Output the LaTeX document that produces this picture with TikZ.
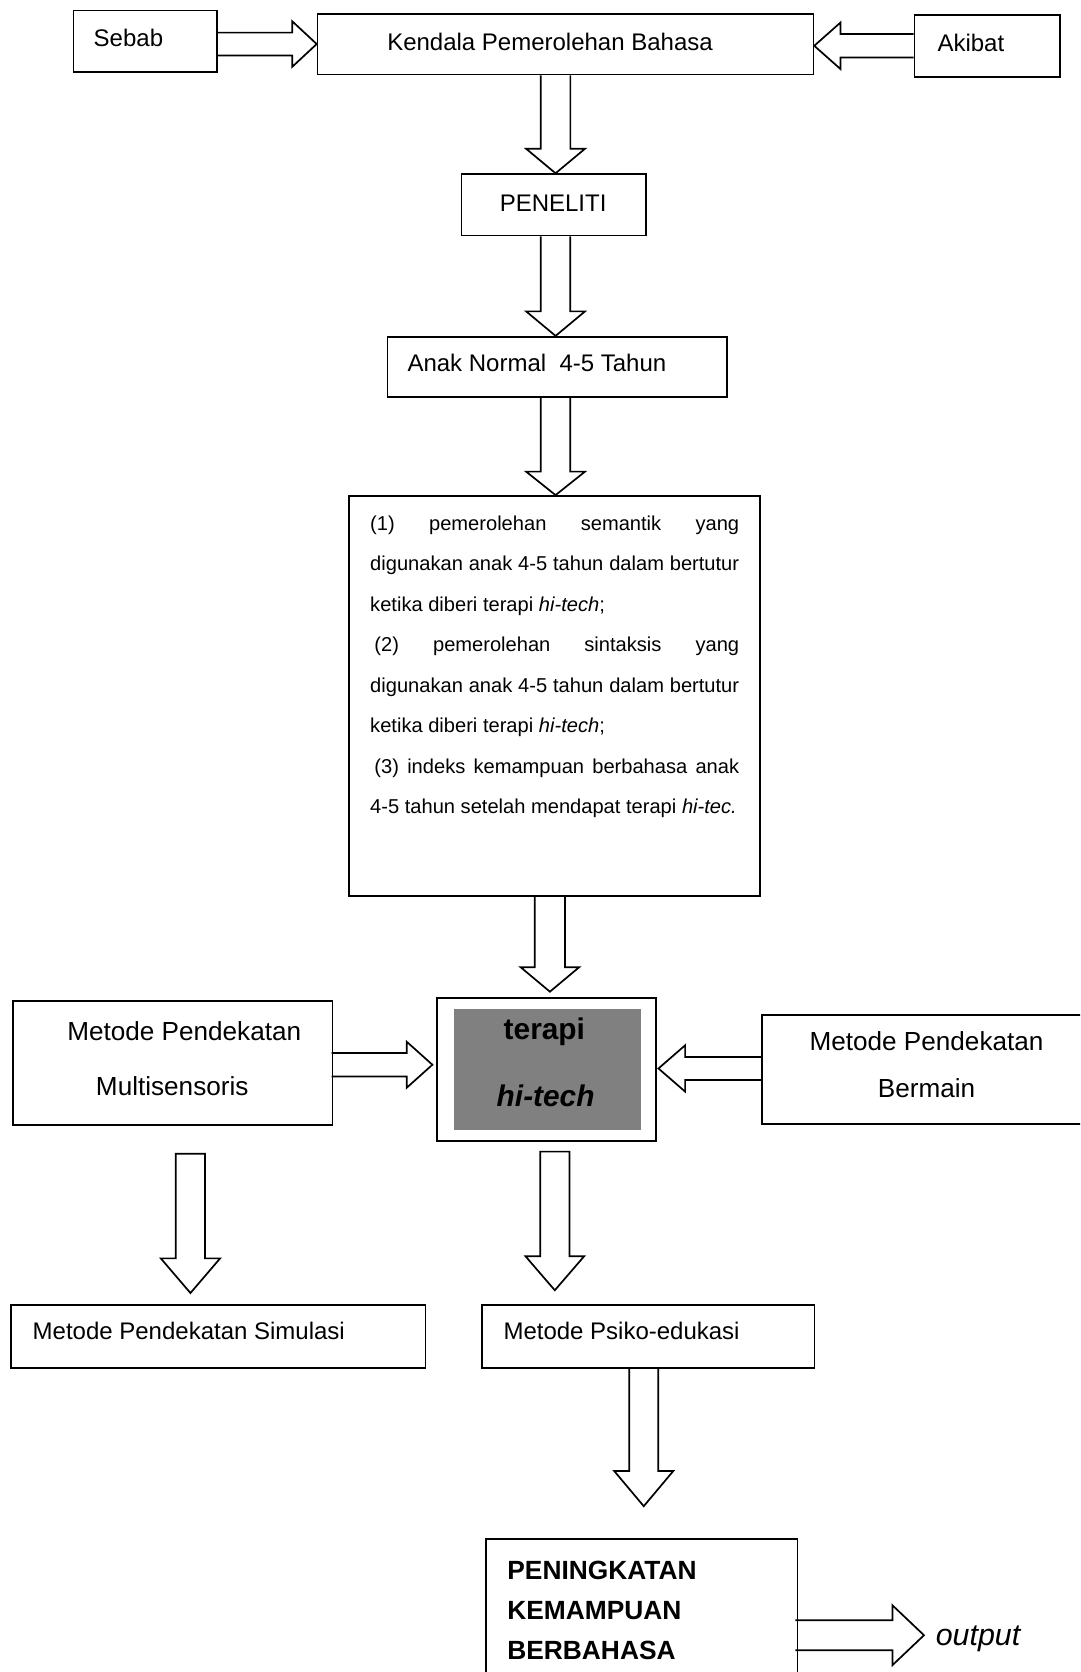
\documentclass[tikz,border=0pt]{standalone}
\usepackage{fontspec}
\setmainfont{Liberation Sans}
\usetikzlibrary{calc}
\definecolor{boxgray}{HTML}{808080}
\newcommand\fntMain{\fontsize{22.5}{27}\selectfont}
\newcommand\fntSmall{\fontsize{18.85}{38}\selectfont}
\newcommand\fntMid{\fontsize{24.5}{30}\selectfont}
\newcommand\fntBig{\fontsize{28}{34}\selectfont}
% hollow block arrow: [end] {start}{tip}{shaft half width}{head half width}{head length}
\newcommand\harrow[6][]{%
  \coordinate (haH) at ($(#3)!#6!(#2)$);
  \draw[blockarrow] ($(#2)!#4!90:(#3)$) -- ($(haH)!#4!90:(#3)$) -- ($(haH)!#5!90:(#3)$) -- (#3)
     -- ($(haH)!#5!-90:(#3)$) -- ($(haH)!#4!-90:(#3)$) -- ($(#2)!#4!-90:(#3)$) #1;}
\begin{document}
\begin{tikzpicture}[x=1pt,y=-1pt,
  box/.style 2 args={draw, line width=1.6pt, rectangle, inner sep=0pt, anchor=north west,
     minimum width=#1, minimum height=#2},
  blockarrow/.style={draw, line width=1.6pt, line join=miter},
  lab/.style={inner sep=0pt, anchor=base west, font=\fntMain},
  clab/.style={inner sep=0pt, anchor=base, font=\fntMid},
  blab/.style={inner sep=0pt, anchor=base west, font=\fontsize{24.7}{30}\selectfont\bfseries},
  bigtxt/.style={inner sep=0pt, anchor=north west, text width=346pt, align=justify, font=\fntSmall}]
\useasboundingbox (0,0) rectangle (1013,1568);
\clip (0,0) rectangle (1013,1568);

% boxes
\node[box={135pt}{58pt}] (sebab) at (68,9) {};
\node[box={465pt}{57pt}] (kend) at (297,12) {};
\node[box={136.3pt}{58.3pt}] (akibat) at (856.7,13) {};
\node[box={173pt}{57.5pt}] (peneliti) at (432,162.5) {};
\node[box={318pt}{56.5pt}] (anak) at (362.7,315) {};
\node[box={385.5pt}{375.2pt}] (big) at (326.7,464.3) {};
\node[box={206pt}{134.4pt}] (terapi) at (408.7,935) {};
\node[box={175.1pt}{113.5pt}, draw=none, fill=boxgray] (terapiin) at (425.2,945.8) {};
\node[box={299.4pt}{116pt}] (multi) at (11.6,938) {};
\node[box={310pt}{102.6pt}] (bermain) at (714,951) {};
\node[box={388.5pt}{59pt}] (simul) at (9.8,1223) {};
\node[box={312pt}{59pt}] (psiko) at (451,1223) {};
\node[box={292pt}{140pt}] (pening) at (455,1442.3) {};

% texts
\node[lab] (tsebab) at (87.7,43.8) {Sebab};
\node[lab] (tkend) at (363,46.9) {Kendala Pemerolehan Bahasa};
\node[lab] (takibat) at (879,48.5) {Akibat};
\node[lab, anchor=base] (tpeneliti) at (518.7,198.6) {PENELITI};
\node[lab] (tanak) at (382,348.6) {Anak Normal\ \ 4-5 Tahun};
\node[bigtxt] (tbig) at (347,483.2) {(1) pemerolehan semantik yang\linebreak
digunakan anak 4-5 tahun dalam bertutur\linebreak
ketika diberi terapi \textit{hi-tech};\par
\hspace*{4pt}(2) pemerolehan sintaksis yang\linebreak
digunakan anak 4-5 tahun dalam bertutur\linebreak
ketika diberi terapi \textit{hi-tech};\par
\hspace*{4pt}(3) indeks kemampuan berbahasa anak\linebreak
4-5 tahun setelah mendapat terapi \textit{hi-tec.}};
\node[inner sep=0pt, anchor=base, font=\fntBig\bfseries] (tterapi1) at (510.5,974.9) {terapi};
\node[inner sep=0pt, anchor=base, font=\fntBig\bfseries\itshape] (tterapi2) at (511.7,1037.5) {hi-tech};
\node[clab] (tmulti1) at (172.8,976.2) {Metode Pendekatan};
\node[clab] (tmulti2) at (161.5,1027.1) {Multisensoris};
\node[clab] (tbermain1) at (868.9,985) {Metode Pendekatan};
\node[clab] (tbermain2) at (868.9,1029.3) {Bermain};
\node[lab] (tsimul) at (30.5,1256.5) {Metode Pendekatan Simulasi};
\node[lab] (tpsiko) at (472,1256.5) {Metode Psiko-edukasi};
\node[blab] (tpen1) at (475.6,1481) {PENINGKATAN};
\node[blab] (tpen2) at (475.6,1519) {KEMAMPUAN};
\node[blab] (tpen3) at (475.6,1556.5) {BERBAHASA};
\node[inner sep=0pt, anchor=base west, font=\fontsize{28.5}{34}\selectfont\itshape] (toutput) at (877.4,1543) {output};

% connector end points
\coordinate (ax) at (521,0);
\coordinate (ax6) at (515.7,0);
\coordinate (s1) at (sebab.east |- kend.west);
\coordinate (t2) at (kend.east |- akibat.west);
\coordinate (s3) at (kend.south -| ax);
\coordinate (t3) at (peneliti.north -| ax);
\coordinate (s4) at (peneliti.south -| ax);
\coordinate (t4) at (anak.north -| ax);
\coordinate (s5) at (anak.south -| ax);
\coordinate (t5) at (big.north -| ax);
\coordinate (s6) at (big.south -| ax6);
\coordinate (t6) at (515.7,930);
\coordinate (s7) at (311,998.5);
\coordinate (t7) at (405.5,998.5);
\coordinate (s8) at (714,1002);
\coordinate (t8) at (617.5,1002);
\coordinate (s9) at (178.6,1082);
\coordinate (t9) at (178.6,1212.6);
\coordinate (s10) at (520.3,1080);
\coordinate (t10) at (520.3,1210);
\coordinate (ax11) at (603.7,0);
\coordinate (s11) at (psiko.south -| ax11);
\coordinate (t11) at (603.7,1412.5);
\coordinate (s12) at (746,1533.5);
\coordinate (t12) at (866.5,1533.5);

% hollow arrows
\harrow{s1}{kend.west}{10.7pt}{21.4pt}{23pt}
\harrow{akibat.west}{t2}{11pt}{21.9pt}{24.7pt}
\harrow{s3}{t3}{13.9pt}{27.6pt}{23pt}
\harrow{s4}{t4}{13.8pt}{27.6pt}{23pt}
\harrow{s5}{t5}{13.8pt}{27.6pt}{22pt}
\harrow{s6}{t6}{14.2pt}{27.5pt}{23pt}
\harrow{s7}{t7}{11pt}{21.5pt}{24pt}
\harrow{s8}{t8}{10.8pt}{21.7pt}{25pt}
\harrow[-- cycle]{s9}{t9}{13.7pt}{27.8pt}{32.5pt}
\harrow[-- cycle]{s10}{t10}{13.7pt}{27.6pt}{32pt}
\harrow{s11}{t11}{13.6pt}{27.7pt}{33pt}
\harrow{s12}{t12}{14pt}{28pt}{29.5pt}
\end{tikzpicture}
\end{document}
